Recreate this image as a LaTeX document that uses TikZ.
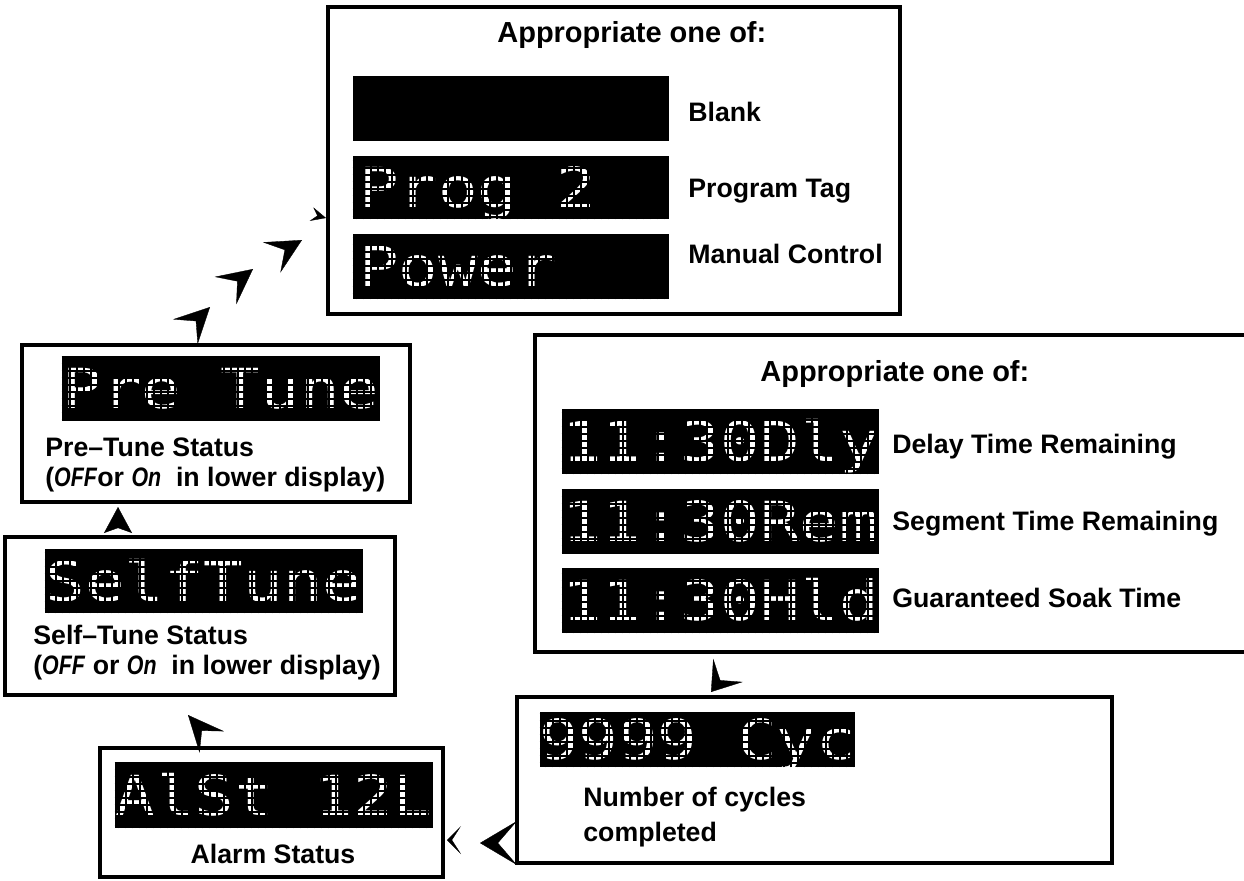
\documentclass[tikz,border=0pt]{standalone}
\usepackage{fontspec}
\usepackage{graphicx}
\setmainfont{Liberation Sans}
\newfontfamily\lcdfont{DejaVu Sans Mono}
\usetikzlibrary{positioning, arrows.meta, fit}

\newcommand{\capsize}{\bfseries\fontsize{15.2}{17.1}\selectfont}
\newcommand{\headsize}{\bfseries\fontsize{16.5}{20}\selectfont}
\newcommand{\lcdsize}{\lcdfont\fontsize{37.4}{40}\selectfont}
\newcommand{\seg}[1]{\scalebox{0.8}[1]{\textbf{\textit{#1}}}}
\newcommand{\lcdstr}[1]{\scalebox{1}[0.84]{#1}}
\newcommand{\lcdgrid}[1]{%
  \begin{scope}
    \clip (#1.south west) rectangle (#1.north east);
    \draw[black, line width=1.4pt, step=0.14cm] (#1.south west) grid (#1.north east);
  \end{scope}}

\tikzset{
  panel/.style={draw, line width=2.6pt, inner sep=0pt},
  lcd/.style={fill=black, inner sep=0pt},
  lcdtext/.style={text=white, font=\lcdsize, inner sep=0pt, anchor=base, yshift=-0.4cm},
  lcdleft/.style={lcdtext, anchor=base west, xshift=0.12cm},
  caption/.style={font=\capsize, inner sep=0pt, anchor=base west},
  twoline/.style={font=\capsize, inner sep=0pt, anchor=north west, align=left},
  heading/.style={font=\headsize, inner sep=0pt, anchor=base west},
  flowtip/.style n args={3}{-{Stealth[length=#1, width=#2, inset=#3]}, line width=0.2pt},
}

\begin{document}
\begin{tikzpicture}[x=0.02cm, y=-0.02cm]

\useasboundingbox (0,0) rectangle (1244,880);

% ---------- PANEL SUPERIOR ----------

\node[panel, fit={(328,7) (900,314)}] (topPanel) {};
\node[heading] (topHead) at (497,42) {Appropriate one of:};

\node[lcd, fit={(353,76) (669,141)}] (blankLcd) {};
\node[lcd, fit={(353,156) (669,219)}] (progLcd) {};
\node[lcd, fit={(353,234) (669,299)}] (powerLcd) {};

\node[lcdleft] (progText) at (progLcd.west) {\lcdstr{Prog 2}};
\node[lcdleft] (powerText) at (powerLcd.west) {\lcdstr{Power}};
\lcdgrid{progLcd}
\lcdgrid{powerLcd}

\node[caption] (blankCap) at (688,121) {Blank};
\node[caption] (progCap) at (688,197) {Program Tag};
\node[caption] (powerCap) at (688,263) {Manual Control};

% ---------- PRE-TUNE ----------

\node[panel, fit={(22,345) (410,502)}] (prePanel) {};
\node[lcd, fit={(62,356) (380,420)}] (preLcd) {};
\node[lcdtext] (preText) at (preLcd.center) {\lcdstr{Pre Tune}};
\lcdgrid{preLcd}
\node[twoline] (preCap) at (45,437) {Pre–Tune Status\\(\seg{OFF}or \seg{On}~ in lower display)};

% ---------- SELF-TUNE ----------

\node[panel, fit={(5,537) (395,695)}] (selfPanel) {};
\node[lcd, fit={(45,549) (363,613)}] (selfLcd) {};
\node[lcdtext] (selfText) at (selfLcd.center) {\lcdstr{SelfTune}};
\lcdgrid{selfLcd}
\node[twoline] (selfCap) at (33,625) {Self–Tune Status\\(\seg{OFF} or \seg{On}~ in lower display)};

% ---------- ALARM ----------

\node[panel, fit={(100,748) (443,877)}] (alarmPanel) {};
\node[lcd, fit={(115,763) (433,828)}] (alarmLcd) {};
\node[lcdtext] (alarmText) at (alarmLcd.center) {\lcdstr{AlSt 12L}};
\lcdgrid{alarmLcd}
\node[caption, anchor=base] (alarmCap) at (273,863) {Alarm Status};

% ---------- SEGMENT TIMES ----------

\node[panel, fit={(535,335) (1262,652)}] (segPanel) {};
\node[heading] (segHead) at (760,381) {Appropriate one of:};

\node[lcd, fit={(562,409) (879,474)}] (dlyLcd) {};
\node[lcd, fit={(562,489) (879,553)}] (remLcd) {};
\node[lcd, fit={(562,568) (879,633)}] (hldLcd) {};

\node[lcdtext] (dlyText) at (dlyLcd.center) {\lcdstr{11:30Dly}};
\node[lcdtext] (remText) at (remLcd.center) {\lcdstr{11:30Rem}};
\node[lcdtext] (hldText) at (hldLcd.center) {\lcdstr{11:30Hld}};
\lcdgrid{dlyLcd}
\lcdgrid{remLcd}
\lcdgrid{hldLcd}

\node[caption] (dlyCap) at (892,453) {Delay Time Remaining};
\node[caption] (remCap) at (892,530) {Segment Time Remaining};
\node[caption] (hldCap) at (892,607) {Guaranteed Soak Time};

% ---------- CYCLES ----------

\node[panel, fit={(517,697) (1112,863)}] (cycPanel) {};
\node[lcd, fit={(540,712) (855,767)}] (cycLcd) {};
\node[lcdtext] (cycText) at (cycLcd.center) {\lcdstr{9999 Cyc}};
\lcdgrid{cycLcd}
\node[twoline, font=\bfseries\fontsize{15.2}{19.9}\selectfont] (cycCap) at (583,787) {Number of cycles\\completed};

% ---------- PUNTAS ----------

\coordinate (tipA) at (302,240);
\coordinate (tipB) at (253,269);
\coordinate (tipC) at (210,307);
\coordinate (tipD) at (326,218);
\coordinate (tipE) at (118,507);
\coordinate (tipF) at (188,715);
\coordinate (tipG) at (480,843);
\coordinate (tipH) at (447,840);
\coordinate (tipI) at (711,692);

\draw[flowtip={0.7cm}{0.7cm}{0.3cm}] ([shift={(-0.87,0.5)}]tipA) -- (tipA);
\draw[flowtip={0.7cm}{0.7cm}{0.3cm}] ([shift={(-0.79,0.62)}]tipB) -- (tipB);
\draw[flowtip={0.7cm}{0.7cm}{0.3cm}] ([shift={(-0.71,0.71)}]tipC) -- (tipC);
\draw[flowtip={0.3cm}{0.28cm}{0.12cm}] ([shift={(-0.97,-0.26)}]tipD) -- (tipD);
\draw[flowtip={0.52cm}{0.56cm}{0.1cm}] ([shift={(0,1)}]tipE) -- (tipE);
\draw[flowtip={0.72cm}{0.65cm}{0.3cm}] ([shift={(0.66,0.75)}]tipF) -- (tipF);
\draw[flowtip={0.74cm}{0.88cm}{0.38cm}] ([shift={(1,0)}]tipG) -- (tipG);
\draw[flowtip={0.28cm}{0.56cm}{0.18cm}] ([shift={(1,0)}]tipH) -- (tipH);
\draw[flowtip={0.55cm}{0.75cm}{0.25cm}] ([shift={(0.62,-0.79)}]tipI) -- (tipI);

\end{tikzpicture}
\end{document}
